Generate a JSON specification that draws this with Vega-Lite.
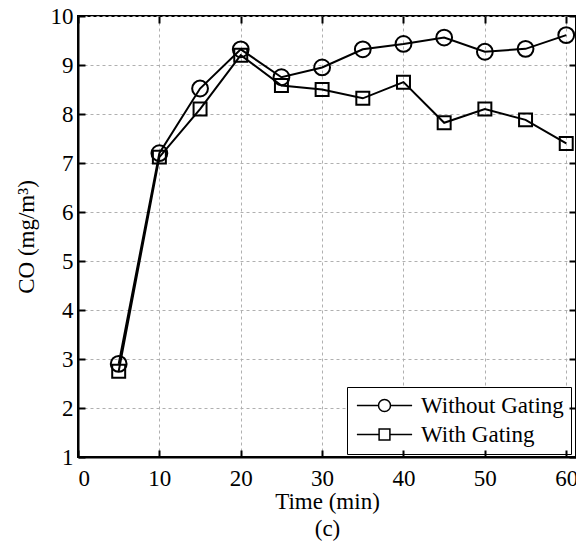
{
  "$schema": "https://vega.github.io/schema/vega-lite/v6.json",
  "autosize": "none",
  "width": 498,
  "height": 441,
  "padding": {"left": 78, "top": 16, "right": 0, "bottom": 89},
  "background": "white",
  "config": {
    "font": "Liberation Serif",
    "view": {"stroke": "black", "strokeWidth": 2},
    "axis": {
      "labelFont": "Liberation Serif",
      "titleFont": "Liberation Serif",
      "labelFontSize": 23,
      "titleFontSize": 23,
      "titleFontWeight": "normal",
      "labelColor": "black",
      "titleColor": "black",
      "domainColor": "black",
      "domainWidth": 2,
      "tickColor": "black",
      "tickWidth": 2,
      "gridColor": "#b0b0b0",
      "gridDash": [3, 3],
      "gridWidth": 1
    }
  },
  "data": {
    "values": [
      {"t": 5, "co": 2.9, "series": "Without Gating"},
      {"t": 10, "co": 7.2, "series": "Without Gating"},
      {"t": 15, "co": 8.52, "series": "Without Gating"},
      {"t": 20, "co": 9.32, "series": "Without Gating"},
      {"t": 25, "co": 8.75, "series": "Without Gating"},
      {"t": 30, "co": 8.95, "series": "Without Gating"},
      {"t": 35, "co": 9.32, "series": "Without Gating"},
      {"t": 40, "co": 9.43, "series": "Without Gating"},
      {"t": 45, "co": 9.56, "series": "Without Gating"},
      {"t": 50, "co": 9.27, "series": "Without Gating"},
      {"t": 55, "co": 9.33, "series": "Without Gating"},
      {"t": 60, "co": 9.61, "series": "Without Gating"},
      {"t": 5, "co": 2.75, "series": "With Gating"},
      {"t": 10, "co": 7.12, "series": "With Gating"},
      {"t": 15, "co": 8.1, "series": "With Gating"},
      {"t": 20, "co": 9.2, "series": "With Gating"},
      {"t": 25, "co": 8.58, "series": "With Gating"},
      {"t": 30, "co": 8.5, "series": "With Gating"},
      {"t": 35, "co": 8.32, "series": "With Gating"},
      {"t": 40, "co": 8.65, "series": "With Gating"},
      {"t": 45, "co": 7.82, "series": "With Gating"},
      {"t": 50, "co": 8.1, "series": "With Gating"},
      {"t": 55, "co": 7.88, "series": "With Gating"},
      {"t": 60, "co": 7.4, "series": "With Gating"}
    ]
  },
  "layer": [
    {
      "mark": {"type": "point", "opacity": 0, "filled": false, "stroke": "black", "strokeWidth": 1.5},
      "encoding": {
        "x": {"field": "t", "type": "quantitative", "scale": {"domain": [0, 61.2], "nice": false},
              "axis": {"orient": "bottom", "values": [0, 10, 20, 30, 40, 50, 60], "labels": false, "grid": false, "domain": false, "ticks": true, "tickSize": 7, "tickWidth": 2, "tickColor": "black", "offset": -7, "title": null, "zindex": 2}},
        "y": {"field": "co", "type": "quantitative", "scale": {"domain": [1, 10], "nice": false},
              "axis": {"orient": "left", "values": [1, 2, 3, 4, 5, 6, 7, 8, 9, 10], "labels": false, "grid": false, "domain": false, "ticks": true, "tickSize": 7, "tickWidth": 2, "tickColor": "black", "offset": -7, "title": null, "zindex": 2}},
        "shape": {
          "field": "series", "type": "nominal",
          "scale": {"domain": ["Without Gating", "With Gating"], "range": ["M-4.6,0L-1,0A1,1,0,1,1,1,0A1,1,0,1,1,-1,0M1,0L4.6,0", "M-4.6,0L-0.9,0M-0.9,-0.9L0.9,-0.9L0.9,0.9L-0.9,0.9ZM0.9,0L4.6,0"]},
          "legend": {
            "title": null,
            "orient": "none",
            "legendX": 269,
            "legendY": 371,
            "padding": 7,
            "strokeColor": "black",
            "fillColor": "white",
            "labelFont": "Liberation Serif",
            "labelFontSize": 23,
            "labelColor": "black",
            "symbolSize": 144,
            "symbolOpacity": 1,
            "symbolStrokeWidth": 1.5,
            "symbolStrokeColor": "black",
            "symbolFillColor": "transparent",
            "symbolOffset": 19,
            "labelOffset": 25,
            "rowPadding": 5
          }
        }
      }
    },
    {
      "mark": {"type": "line", "color": "black", "strokeWidth": 2},
      "encoding": {
        "x": {"field": "t", "type": "quantitative",
              "axis": {"orient": "top", "values": [0, 10, 20, 30, 40, 50, 60], "labels": false, "grid": false, "domain": false, "ticks": true, "tickSize": 7, "tickWidth": 2, "tickColor": "black", "offset": -7, "title": null, "zindex": 2}},
        "y": {"field": "co", "type": "quantitative",
              "axis": {"orient": "right", "values": [1, 2, 3, 4, 5, 6, 7, 8, 9, 10], "labels": false, "grid": false, "domain": false, "ticks": true, "tickSize": 7, "tickWidth": 2, "tickColor": "black", "offset": -7, "title": null, "zindex": 2}},
        "detail": {"field": "series"}
      }
    },
    {
      "mark": {"type": "point", "filled": false, "stroke": "black", "strokeWidth": 2, "opacity": 1, "size": 250},
      "encoding": {
        "x": {"field": "t", "type": "quantitative",
              "axis": {"orient": "bottom", "values": [0, 10, 20, 30, 40, 50, 60], "grid": true, "ticks": false, "labelPadding": 10, "title": ["Time (min)", "(c)"], "titleLineHeight": 27, "titlePadding": 0}},
        "y": {"field": "co", "type": "quantitative",
              "axis": {"orient": "left", "values": [1, 2, 3, 4, 5, 6, 7, 8, 9, 10], "grid": true, "ticks": false, "labelPadding": 5, "title": "CO (mg/m³)", "titlePadding": 12}},
        "shape": {
          "condition": {"test": "datum.series === 'With Gating'", "value": "M-0.82,-0.82L0.82,-0.82L0.82,0.82L-0.82,0.82Z"},
          "value": "circle"
        }
      }
    }
  ],
  "resolve": {"axis": {"x": "independent", "y": "independent"}}
}
